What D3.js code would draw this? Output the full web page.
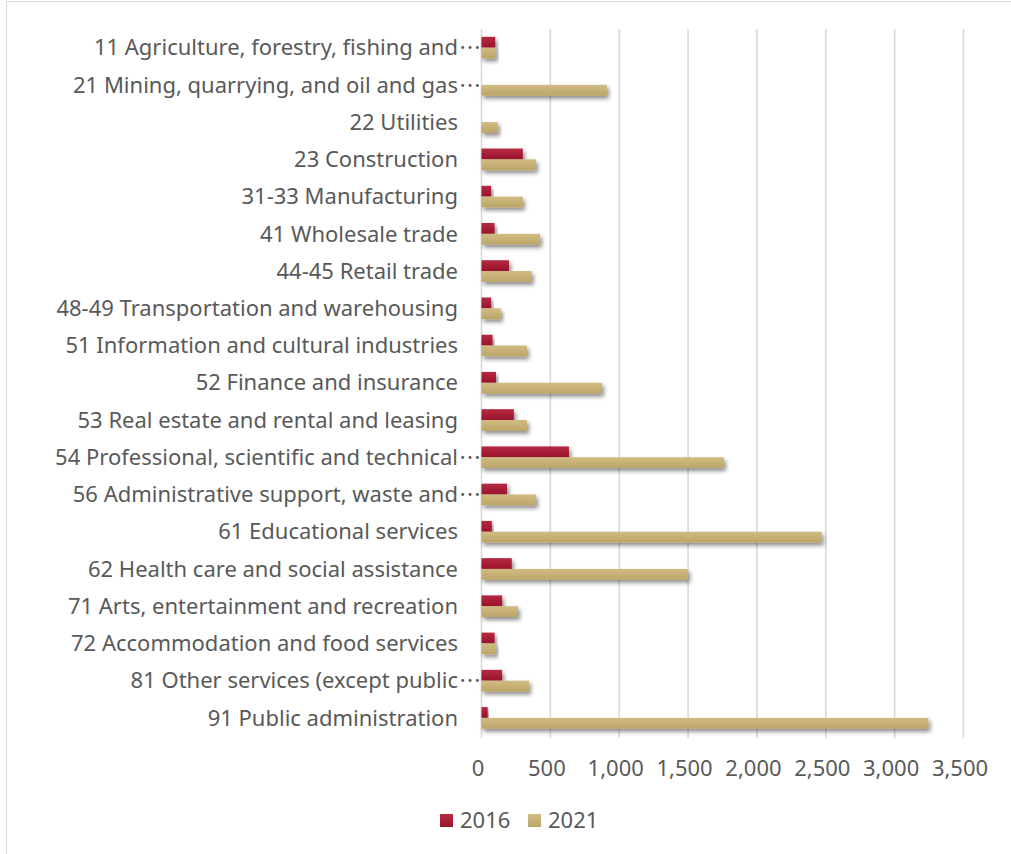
<!DOCTYPE html>
<html>
<head>
<meta charset="utf-8">
<script src="https://cdn.jsdelivr.net/npm/d3@7"></script>
<style>
  html, body { margin: 0; padding: 0; background: #fff; }
  svg { display: block; }
  text { font-family: "Noto Sans", "Noto Sans CJK JP", sans-serif; fill: #595959; }
</style>
</head>
<body>
<svg id="chart" width="1011" height="854"></svg>
<script>
// Industry categories (NAICS sectors), top to bottom
const categories = [
  "11 Agriculture, forestry, fishing and…",
  "21 Mining, quarrying, and oil and gas…",
  "22 Utilities",
  "23 Construction",
  "31-33 Manufacturing",
  "41 Wholesale trade",
  "44-45 Retail trade",
  "48-49 Transportation and warehousing",
  "51 Information and cultural industries",
  "52 Finance and insurance",
  "53 Real estate and rental and leasing",
  "54 Professional, scientific and technical…",
  "56 Administrative support, waste and…",
  "61 Educational services",
  "62 Health care and social assistance",
  "71 Arts, entertainment and recreation",
  "72 Accommodation and food services",
  "81 Other services (except public…",
  "91 Public administration"
];

const values2016 = [100, 0, 0, 300, 70, 95, 200, 70, 80, 105, 235, 635, 185, 75, 220, 150, 95, 150, 45];
const values2021 = [105, 910, 120, 395, 300, 425, 365, 140, 330, 875, 330, 1760, 395, 2470, 1500, 265, 105, 345, 3245];

const seriesNames = ["2016", "2021"];
const tickValues = [0, 500, 1000, 1500, 2000, 2500, 3000, 3500];

const series = [values2016, values2021];
const colors = { "2016": ["#b52a42", "#9a132c"], "2021": ["#d0bc83", "#bca566"] };
const fontSize = 22;

const svg = d3.select("#chart");
const defs = svg.append("defs");

// soft drop shadow under each bar
const shadow = defs.append("filter").attr("id", "barShadow")
  .attr("x", "-10%").attr("y", "-30%").attr("width", "130%").attr("height", "190%");
shadow.append("feDropShadow")
  .attr("dx", 2).attr("dy", 3).attr("stdDeviation", 2.2)
  .attr("flood-color", "#000").attr("flood-opacity", 0.45);

seriesNames.forEach(name => {
  const g = defs.append("linearGradient").attr("id", "grad" + name)
    .attr("x1", 0).attr("y1", 0).attr("x2", 0).attr("y2", 1);
  g.append("stop").attr("offset", "0%").attr("stop-color", colors[name][0]);
  g.append("stop").attr("offset", "100%").attr("stop-color", colors[name][1]);
});

// chart frame
svg.append("rect")
  .attr("x", 6.5).attr("y", 1.5).attr("width", 1020).attr("height", 870)
  .attr("fill", "none").attr("stroke", "#d9d9d9").attr("stroke-width", 1);

const x = d3.scaleLinear().domain([0, 3500]).range([481.5, 963.5]);
const y = d3.scaleBand().domain(categories).range([29, 736.5]).padding(0);
const groupH = 21.6;
const ySub = d3.scaleBand().domain(seriesNames).range([0, groupH]).padding(0);

// vertical gridlines
svg.append("g")
  .selectAll("line")
  .data(tickValues)
  .join("line")
  .attr("x1", d => x(d)).attr("x2", d => x(d))
  .attr("y1", 29).attr("y2", 738)
  .attr("stroke", "#d9d9d9").attr("stroke-width", 1.6);

// bars
const groups = svg.append("g")
  .selectAll("g")
  .data(categories)
  .join("g")
  .attr("transform", d => `translate(0,${y(d) + (y.bandwidth() - groupH) / 2})`);

groups.selectAll("rect")
  .data((d, i) => seriesNames.map((s, k) => ({ s, v: series[k][i] })).filter(e => e.v > 0))
  .join("rect")
  .attr("x", x(0))
  .attr("y", e => ySub(e.s))
  .attr("width", e => x(e.v) - x(0))
  .attr("height", ySub.bandwidth())
  .attr("fill", e => `url(#grad${e.s})`)
  .attr("filter", "url(#barShadow)");

// category labels; truncated names get a midline ellipsis past the anchor
const labelX = 458;
const labels = svg.append("g")
  .selectAll("g")
  .data(categories)
  .join("g")
  .attr("transform", d => `translate(0,${y(d) + y.bandwidth() / 2})`);
labels.append("text")
  .attr("x", labelX)
  .attr("dy", "0.35em")
  .attr("text-anchor", "end")
  .attr("font-size", fontSize)
  .text(d => d.replace(/…$/, ""));
labels.filter(d => d.endsWith("…"))
  .append("text")
  .attr("x", labelX + 1)
  .attr("dy", "0.35em")
  .attr("font-size", fontSize)
  .style("font-family", '"Noto Sans CJK JP", sans-serif')
  .text("⋯");

// value axis labels
const xAxis = d3.axisBottom(x)
  .tickValues(tickValues)
  .tickSize(0)
  .tickPadding(0)
  .tickFormat(d3.format(","));
const axisG = svg.append("g").attr("transform", "translate(-4,768)").call(xAxis);
axisG.select(".domain").remove();
axisG.selectAll("text")
  .attr("font-size", fontSize)
  .attr("y", 0)
  .attr("dy", "0.35em")
  .style("font-family", '"Noto Sans", "Noto Sans CJK JP", sans-serif')
  .attr("fill", "#595959");

// legend
const legend = svg.append("g")
  .selectAll("g")
  .data(seriesNames)
  .join("g")
  .attr("transform", (d, i) => `translate(${440 + i * 88},814)`);
legend.append("rect")
  .attr("width", 13).attr("height", 13)
  .attr("fill", d => `url(#grad${d})`);
legend.append("text")
  .attr("x", 20).attr("y", 6.5).attr("dy", "0.35em")
  .attr("font-size", fontSize)
  .text(d => d);
</script>
</body>
</html>
